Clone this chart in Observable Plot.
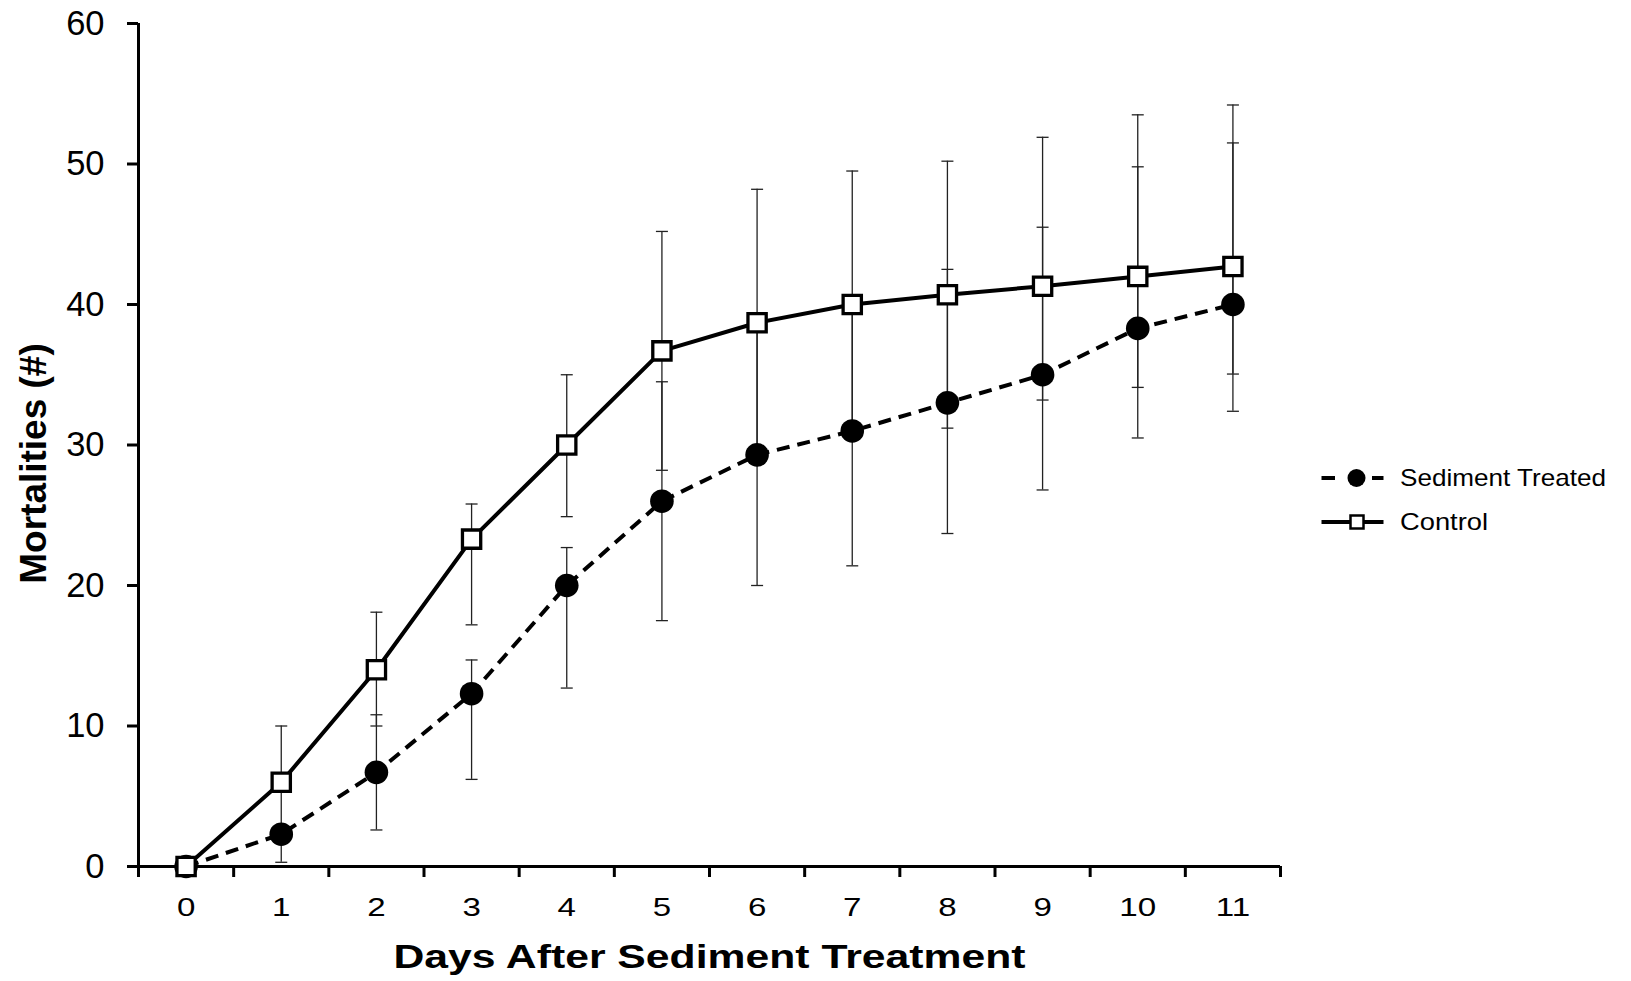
<!DOCTYPE html>
<html>
<head>
<meta charset="utf-8">
<script src="https://cdn.jsdelivr.net/npm/d3@7"></script>
<script src="https://cdn.jsdelivr.net/npm/@observablehq/plot@0.6"></script>
<style>
  html, body { margin: 0; padding: 0; background: #fff; overflow: hidden; }
  #wrap { position: relative; width: 1631px; height: 981px; }
  #legend { position: absolute; left: 0; top: 0; }
</style>
</head>
<body>
<div id="wrap"></div>
<script>
// ---- data ----
const days = [0, 1, 2, 3, 4, 5, 6, 7, 8, 9, 10, 11];
const seriesNames = ["Sediment Treated", "Control"];
const sedimentMean = [0, 2.3, 6.7, 12.3, 20, 26, 29.3, 31, 33, 35, 38.3, 40];
const controlMean  = [0, 6, 14, 23.3, 30, 36.7, 38.7, 40, 40.7, 41.3, 42, 42.7];
// error bar ends (cap values)
const sedimentLow  = [null, 0.3, 2.6, 6.2, 12.7, 17.5, 20.0, 21.4, 23.7, 26.8, 30.5, 32.4];
const sedimentHigh = [null, 2.3, 10.8, 14.7, 22.7, 34.5, 38.6, 40.6, 42.5, 45.5, 49.8, 51.5];
const controlLow   = [null, 2.0, 10.0, 17.2, 24.9, 28.2, 29.2, 30.5, 31.2, 33.2, 34.1, 35.05];
const controlHigh  = [null, 10.0, 18.1, 25.8, 35.0, 45.2, 48.2, 49.5, 50.2, 51.9, 53.5, 54.2];
const yTicks = [0, 10, 20, 30, 40, 50, 60];
const xTitle = "Days After Sediment Treatment";
const yTitle = "Mortalities (#)";

// ---- tables ----
const sedRows = days.map((d, i) => ({day: d, value: sedimentMean[i]}));
const ctlRows = days.map((d, i) => ({day: d, value: controlMean[i]}));
const errRows = [
  ...days.map((d, i) => ({day: d, lo: sedimentLow[i], hi: sedimentHigh[i]})),
  ...days.map((d, i) => ({day: d, lo: controlLow[i], hi: controlHigh[i]}))
].filter(r => r.lo != null);
const capEnds = errRows.flatMap(r => [{day: r.day, v: r.lo}, {day: r.day, v: r.hi}]);
const boundaries = [...days, days.length].map(d => d - 0.5);

const capSymbol = {
  draw(ctx) { ctx.moveTo(-6, 0); ctx.lineTo(6, 0); }
};

const FONT = "'Liberation Sans', Arial, Helvetica, sans-serif";

const chart = Plot.plot({
  width: 1631,
  height: 981,
  marginLeft: 138,
  marginRight: 351,
  marginTop: 23,
  marginBottom: 115,
  style: {fontFamily: FONT, fontSize: "26px", background: "white", color: "black", overflow: "visible"},
  x: {domain: [-0.5, 11.5], axis: null},
  y: {domain: [0, 60], axis: null},
  marks: [
    // axes
    Plot.axisY({ticks: yTicks, tickSize: 11, tickPadding: 23, fontSize: 34.5, strokeWidth: 3, label: null}),
    Plot.axisX({ticks: boundaries, tickSize: 11, tickFormat: () => "", strokeWidth: 3, label: null}),
    Plot.axisX({ticks: days, tickSize: 0, tickPadding: 31, fontSize: 25.5, label: null, tickFormat: d => String(d)}),
    Plot.ruleX([-0.5], {strokeWidth: 3}),
    Plot.ruleY([0], {strokeWidth: 3}),
    // titles
    Plot.text([xTitle], {text: d => d, frameAnchor: "bottom", textAnchor: "middle", dy: 101, fontSize: 32.5, fontWeight: "bold"}),
    Plot.text([yTitle], {text: d => d, frameAnchor: "left", textAnchor: "middle", rotate: -90, dx: -104, dy: 18.5, fontSize: 37, fontWeight: "bold"}),
    // error bars
    Plot.ruleX(errRows, {x: "day", y1: "lo", y2: "hi", stroke: "#222", strokeWidth: 1.3}),
    Plot.dot(capEnds, {x: "day", y: "v", symbol: capSymbol, r: 6, fill: "none", stroke: "#222", strokeWidth: 1.3}),
    // sediment treated
    Plot.line(sedRows, {x: "day", y: "value", stroke: "black", strokeWidth: 4, strokeDasharray: "13,8", strokeLinecap: "butt"}),
    Plot.dot(sedRows, {x: "day", y: "value", symbol: "circle", r: 11.8, fill: "black", stroke: "none"}),
    // control
    Plot.line(ctlRows, {x: "day", y: "value", stroke: "black", strokeWidth: 4}),
    Plot.dot(ctlRows, {x: "day", y: "value", symbol: "square", r: 10.3, fill: "white", stroke: "black", strokeWidth: 3.3})
  ]
});

const wrap = document.getElementById("wrap");
wrap.appendChild(chart);

// horizontally widen x tick labels and x title as in the reference
chart.querySelectorAll("text").forEach(t => {
  if (t.textContent === xTitle) {
    t.setAttribute("textLength", 632);
    t.setAttribute("lengthAdjust", "spacingAndGlyphs");
  }
});
chart.querySelectorAll('g[aria-label="x-axis tick label"] text').forEach(t => {
  if (!t.textContent) return;
  const len = t.getComputedTextLength();
  t.setAttribute("textLength", (len * 1.3).toFixed(1));
  t.setAttribute("lengthAdjust", "spacingAndGlyphs");
});

// ---- legend ----
const leg = d3.select(wrap).append("svg")
  .attr("id", "legend")
  .attr("width", 1631).attr("height", 981)
  .style("pointer-events", "none");
const rows = [
  {name: seriesNames[0], y: 478},
  {name: seriesNames[1], y: 522}
];
// Sediment Treated row
leg.append("line").attr("x1", 1321.5).attr("x2", 1335).attr("y1", rows[0].y).attr("y2", rows[0].y)
  .attr("stroke", "black").attr("stroke-width", 4);
leg.append("line").attr("x1", 1372).attr("x2", 1383.5).attr("y1", rows[0].y).attr("y2", rows[0].y)
  .attr("stroke", "black").attr("stroke-width", 4);
leg.append("circle").attr("cx", 1356.5).attr("cy", rows[0].y).attr("r", 9).attr("fill", "black");
// Control row
leg.append("line").attr("x1", 1321.5).attr("x2", 1383.5).attr("y1", rows[1].y).attr("y2", rows[1].y)
  .attr("stroke", "black").attr("stroke-width", 4);
leg.append("rect").attr("x", 1357 - 6.5).attr("y", rows[1].y - 6.5).attr("width", 13).attr("height", 13)
  .attr("fill", "white").attr("stroke", "black").attr("stroke-width", 2.5);
rows.forEach((r, i) => {
  leg.append("text").attr("x", 1400).attr("y", r.y).attr("dy", "0.35em")
    .attr("font-family", FONT).attr("font-size", 24).attr("fill", "black")
    .attr("textLength", i === 0 ? 206 : 88).attr("lengthAdjust", "spacingAndGlyphs")
    .text(r.name);
});
</script>
</body>
</html>
